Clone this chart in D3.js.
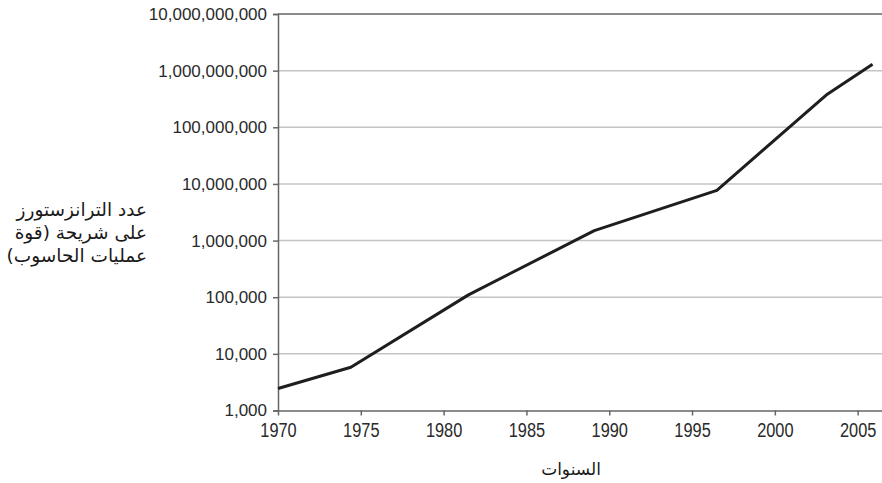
<!DOCTYPE html>
<html>
<head>
<meta charset="utf-8">
<script src="https://cdn.jsdelivr.net/npm/d3@7"></script>
<style>
  html, body { margin: 0; padding: 0; background: #fff; }
  svg { display: block; }
  .tick text { font-family: "Liberation Sans", Arial, sans-serif; fill: #2a2a2a; }
  .ar { font-family: "DejaVu Sans", "Noto Sans", sans-serif; fill: #1a1a1a; }
</style>
</head>
<body>
<svg id="chart" width="882" height="483"></svg>
<script>
// Transistor counts per chip over the years (log scale)
const years = [1970, 1974.4, 1981.5, 1989.1, 1996.5, 2003.1, 2005.9];
const transistors = [2450, 5800, 110000, 1500000, 7700000, 370000000, 1300000000];
const yTickValues = [1e3, 1e4, 1e5, 1e6, 1e7, 1e8, 1e9, 1e10];
const xTickValues = [1970, 1975, 1980, 1985, 1990, 1995, 2000, 2005];
const yTitleLines = ["عدد الترانزستورز", "على شريحة (قوة", "عمليات الحاسوب)"];
const xTitle = "السنوات";

const plotLeft = 278, plotRight = 882, plotTop = 14, plotBottom = 410.5;

const svg = d3.select("#chart");

const x = d3.scaleLinear().domain([1970, 2006.47]).range([plotLeft, plotRight]);
const y = d3.scaleLog().domain([1e3, 1e10]).range([plotBottom, plotTop]);

// horizontal grid lines
svg.append("g")
  .selectAll("line")
  .data(yTickValues.slice(1, -1))
  .join("line")
  .attr("x1", plotLeft).attr("x2", plotRight)
  .attr("y1", d => y(d)).attr("y2", d => y(d))
  .attr("stroke", "#c4c4c4")
  .attr("stroke-width", 1.5);

// top frame line
svg.append("line")
  .attr("x1", plotLeft).attr("x2", plotRight)
  .attr("y1", y(1e10)).attr("y2", y(1e10))
  .attr("stroke", "#666").attr("stroke-width", 1.5);

// y axis
const yAxis = svg.append("g")
  .attr("transform", `translate(${plotLeft},0)`)
  .call(d3.axisLeft(y).tickValues(yTickValues).tickFormat(d3.format(",")).tickSize(5).tickPadding(6));
yAxis.select(".domain").attr("stroke", "#666").attr("stroke-width", 1.5);
yAxis.selectAll(".tick line").attr("stroke", "#666").attr("stroke-width", 1.5);
yAxis.selectAll(".tick text").attr("font-size", 17);

// x axis (year labels are set in a tall, slightly condensed face)
const xAxis = svg.append("g")
  .attr("transform", `translate(0,${plotBottom})`)
  .call(d3.axisBottom(x).tickValues(xTickValues).tickFormat(d3.format("d")).tickSize(5).tickSizeOuter(0).tickPadding(8));
xAxis.select(".domain").attr("stroke", "#666").attr("stroke-width", 1.5);
xAxis.selectAll(".tick line").attr("stroke", "#666").attr("stroke-width", 1.5);
xAxis.selectAll(".tick text")
  .attr("font-size", 19.5)
  .attr("transform", "scale(0.84,1)");

// data line
const data = years.map((yr, i) => ({ yr, v: transistors[i] }));
svg.append("path")
  .datum(data)
  .attr("fill", "none")
  .attr("stroke", "#1e1e1e")
  .attr("stroke-width", 3)
  .attr("stroke-linejoin", "round")
  .attr("d", d3.line().x(d => x(d.yr)).y(d => y(d.v)));

// y axis title (three right-aligned lines)
svg.append("text")
  .attr("class", "ar")
  .attr("direction", "rtl")
  .attr("font-size", 18.5)
  .selectAll("tspan")
  .data(yTitleLines)
  .join("tspan")
  .attr("x", 147)
  .attr("y", (d, i) => 216 + i * 23)
  .text(d => d);

// x axis title
svg.append("text")
  .attr("class", "ar")
  .attr("font-size", 17)
  .attr("text-anchor", "middle")
  .attr("x", 571)
  .attr("y", 475)
  .text(xTitle);
</script>
</body>
</html>
